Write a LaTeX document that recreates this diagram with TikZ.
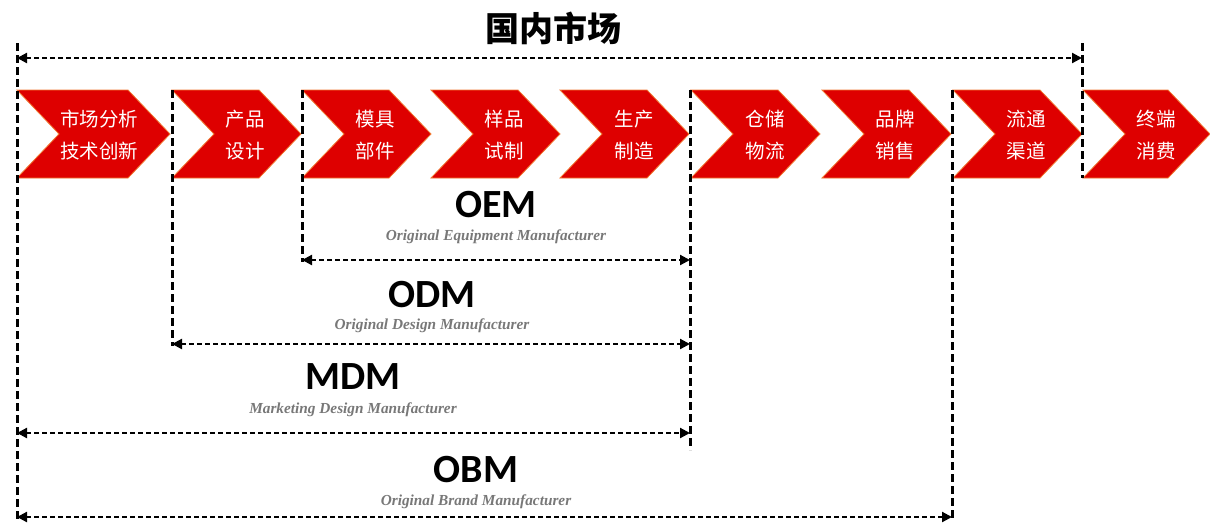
\documentclass[tikz,border=0pt]{standalone}
\usepackage{fontspec}
\usetikzlibrary{arrows.meta}
\newfontfamily\cjk{Noto Sans CJK SC}
\newfontfamily\carl{Carlito}
\newfontfamily\tnr{Liberation Serif}
\definecolor{chevred}{RGB}{222,0,0}
\definecolor{chevedge}{RGB}{240,120,50}
\definecolor{subgray}{RGB}{120,120,120}
\begin{document}
\begin{tikzpicture}[x=1pt,y=-1pt,
  chev/.style={fill=chevred, draw=chevedge, line width=0.8pt, line join=miter},
  ctext/.style={text=white, font=\cjk\fontsize{19.5}{32}\selectfont, align=center, inner sep=0pt},
  vdash/.style={draw=black, line width=3pt, dash pattern=on 8pt off 4pt},
  hdash/.style={draw=black, line width=2.2pt, dash pattern=on 5pt off 3pt,
    {Triangle[length=10pt,width=10pt]}-{Triangle[length=10pt,width=10pt]}},
  abbr/.style={font=\carl\bfseries\fontsize{40}{42}\selectfont, inner sep=0pt},
  full/.style={text=subgray, font=\tnr\bfseries\itshape\fontsize{15.3}{17}\selectfont, inner sep=0pt},
  title/.style={font=\cjk\bfseries\fontsize{34}{36}\selectfont, inner sep=0pt}
]
\useasboundingbox (0,0) rectangle (1210,531);
% chevrons
\newcommand{\chevron}[2]{% left, width
  \filldraw[chev] (#1,90) -- ({#1+#2-42},90) -- ({#1+#2},134) -- ({#1+#2-42},178) -- (#1,178) -- ({#1+42},134) -- cycle;}
\chevron{17}{153}
\chevron{172}{129}
\chevron{302}{129}
\chevron{431}{129}
\chevron{560}{129}
\chevron{691}{129}
\chevron{822}{129}
\chevron{953}{129}
\chevron{1083}{127}
% chevron texts
\node[ctext] (t1) at (99,135) {市场分析\\技术创新};
\node[ctext] (t2) at (245,135) {产品\\设计};
\node[ctext] (t3) at (375,135) {模具\\部件};
\node[ctext] (t4) at (504,135) {样品\\试制};
\node[ctext] (t5) at (634,135) {生产\\制造};
\node[ctext] (t6) at (765,135) {仓储\\物流};
\node[ctext] (t7) at (895,135) {品牌\\销售};
\node[ctext] (t8) at (1026,135) {流通\\渠道};
\node[ctext] (t9) at (1156,135) {终端\\消费};
% vertical guide lines
\coordinate (a1) at (17,43);   \coordinate (a2) at (17,519);
\coordinate (b1) at (172,90);  \coordinate (b2) at (172,346);
\coordinate (c1) at (302,90);  \coordinate (c2) at (302,262);
\coordinate (d1) at (690,90);  \coordinate (d2) at (690,450);
\coordinate (e1) at (952,90);  \coordinate (e2) at (952,520);
\coordinate (f1) at (1082,43); \coordinate (f2) at (1082,178);
\draw[vdash] (a1) -- (a2);
\draw[vdash] (b1) -- (b2);
\draw[vdash] (c1) -- (c2);
\draw[vdash] (d1) -- (d2);
\draw[vdash] (e1) -- (e2);
\draw[vdash] (f1) -- (f2);
% arrows
\coordinate (topL) at (17,58);  \coordinate (topR) at (1082,58);
\coordinate (oemL) at (302,260); \coordinate (oemR) at (690,260);
\coordinate (odmL) at (172,344); \coordinate (odmR) at (690,344);
\coordinate (mdmL) at (17,433);  \coordinate (mdmR) at (690,433);
\coordinate (obmL) at (17,517);  \coordinate (obmR) at (952,517);
\draw[hdash] (topL) -- (topR);
\draw[hdash] (oemL) -- (oemR);
\draw[hdash] (odmL) -- (odmR);
\draw[hdash] (mdmL) -- (mdmR);
\draw[hdash] (obmL) -- (obmR);
% labels
\node[title] (ttl) at (553,28) {国内市场};
\node[abbr] (oem) at (496,205) {OEM};
\node[full] (oemf) at (496,237) {Original Equipment Manufacturer};
\node[abbr] (odm) at (432,295) {ODM};
\node[full] (odmf) at (432,326) {Original Design Manufacturer};
\node[abbr] (mdm) at (353,377) {MDM};
\node[full] (mdmf) at (353,410) {Marketing Design Manufacturer};
\node[abbr] (obm) at (476,470) {OBM};
\node[full] (obmf) at (476,502) {Original Brand Manufacturer};
\end{tikzpicture}
\end{document}
